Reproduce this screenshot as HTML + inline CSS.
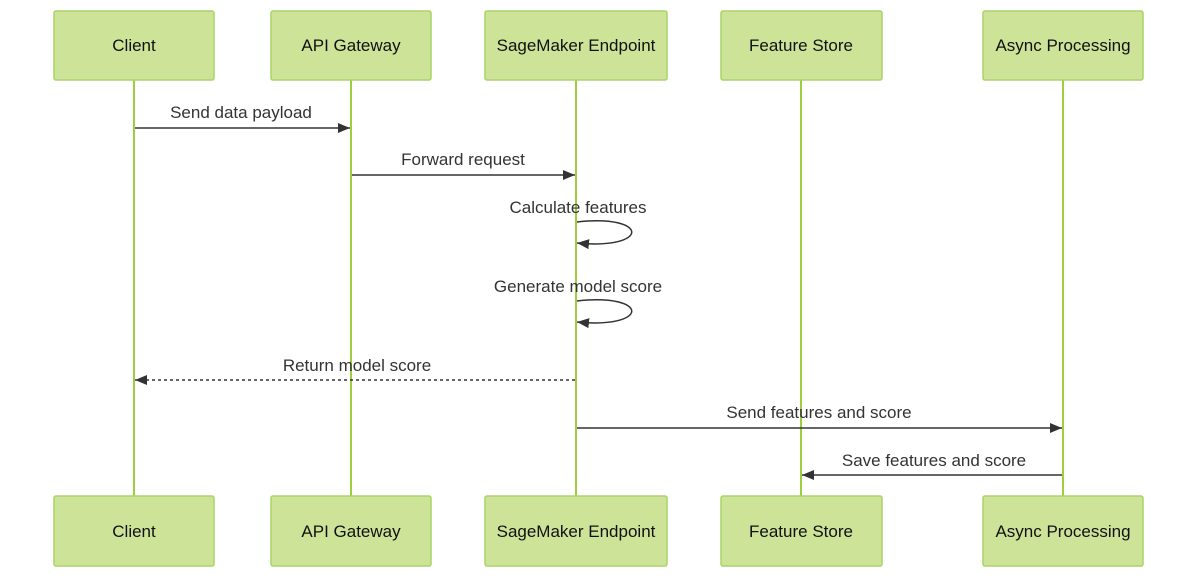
<!DOCTYPE html>
<html><head><meta charset="utf-8"><style>body{margin:0;background:#fff}svg{display:block}text{font-family:"Liberation Sans",Arial,sans-serif;fill:#333;font-size:17px}</style></head><body>
<svg width="1200" height="579" viewBox="0 0 1200 579" xmlns="http://www.w3.org/2000/svg">
<defs><marker id="a" viewBox="0 0 12 10" refX="12" refY="5" markerWidth="12" markerHeight="10" orient="auto" markerUnits="userSpaceOnUse"><path d="M0,0 L12,5 L0,10 z" fill="#333"/></marker></defs>
<g stroke="#9fcd3f" stroke-width="2">
<line x1="134" y1="80" x2="134" y2="496"/><line x1="351" y1="80" x2="351" y2="496"/><line x1="576" y1="80" x2="576" y2="496"/><line x1="801" y1="80" x2="801" y2="496"/><line x1="1063" y1="80" x2="1063" y2="496"/>
</g>
<g fill="#cde498" stroke="#a8d468" stroke-width="1.5">
<rect x="54" y="11" width="160" height="69" rx="2"/><rect x="271" y="11" width="160" height="69" rx="2"/><rect x="485" y="11" width="182" height="69" rx="2"/><rect x="721" y="11" width="161" height="69" rx="2"/><rect x="983" y="11" width="160" height="69" rx="2"/>
<rect x="54" y="496" width="160" height="70" rx="2"/><rect x="271" y="496" width="160" height="70" rx="2"/><rect x="485" y="496" width="182" height="70" rx="2"/><rect x="721" y="496" width="161" height="70" rx="2"/><rect x="983" y="496" width="160" height="70" rx="2"/>
</g>
<g text-anchor="middle" style="fill:#111">
<text x="134" y="51" style="fill:#111">Client</text><text x="351" y="51" style="fill:#111">API Gateway</text><text x="576" y="51" style="fill:#111">SageMaker Endpoint</text><text x="801" y="51" style="fill:#111">Feature Store</text><text x="1063" y="51" style="fill:#111">Async Processing</text>
<text x="134" y="537" style="fill:#111">Client</text><text x="351" y="537" style="fill:#111">API Gateway</text><text x="576" y="537" style="fill:#111">SageMaker Endpoint</text><text x="801" y="537" style="fill:#111">Feature Store</text><text x="1063" y="537" style="fill:#111">Async Processing</text>
</g>
<g text-anchor="middle">
<text x="241" y="118">Send data payload</text>
<text x="463" y="165">Forward request</text>
<text x="578" y="213">Calculate features</text>
<text x="578" y="292">Generate model score</text>
<text x="357" y="371">Return model score</text>
<text x="819" y="418">Send features and score</text>
<text x="934" y="466">Save features and score</text>
</g>
<g stroke="#333" stroke-width="1.5" fill="none">
<line x1="135" y1="128" x2="350" y2="128" marker-end="url(#a)"/>
<line x1="352" y1="175" x2="575" y2="175" marker-end="url(#a)"/>
<path d="M577,222 C650,214 650,250 577,243" marker-end="url(#a)"/>
<path d="M577,301 C650,293 650,329 577,322" marker-end="url(#a)"/>
<line x1="575" y1="380" x2="135" y2="380" stroke-dasharray="3,3" marker-end="url(#a)"/>
<line x1="577" y1="428" x2="1062" y2="428" marker-end="url(#a)"/>
<line x1="1062" y1="475" x2="802" y2="475" marker-end="url(#a)"/>
</g>
</svg>
</body></html>
